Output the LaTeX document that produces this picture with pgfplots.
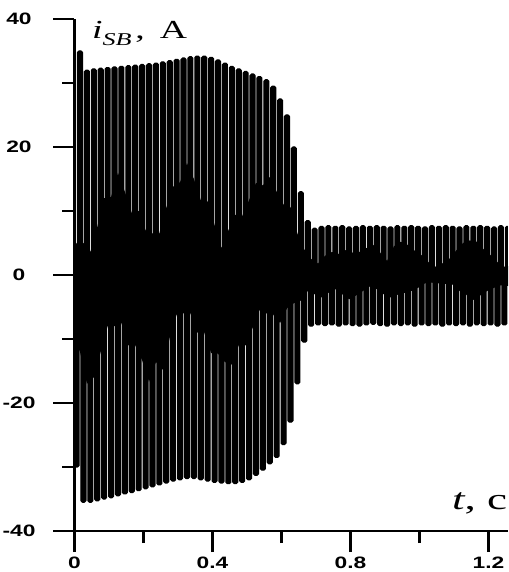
\documentclass[border=0pt]{standalone}
\usepackage{pgfplots}
\pgfplotsset{compat=1.18}
\usepackage{fontspec}
\setmainfont{Liberation Serif}
\newfontfamily\arialf{Liberation Sans}
\usepackage{graphicx}
\newcommand{\tl}[1]{\scalebox{1.38}[1]{\arialf\bfseries\fontsize{16.5}{17}\selectfont #1}}

\begin{document}
\begin{tikzpicture}
\begin{axis}[
 at={(0,0)}, anchor=south west,
 scale only axis, width=433.5pt, height=512pt,
 xmin=0, xmax=1.2565, ymin=-40, ymax=40,
 axis lines=left,
 axis line style={-, line width=2.6pt},
 tick align=outside,
 xtick={0,0.4,0.8,1.2}, xticklabels={\tl{0},\tl{0.4},\tl{0.8},\tl{1.2}},
 minor xtick={0.2,0.6,1.0},
 ytick={-40,-20,0,20,40}, yticklabels={\tl{-40},\tl{-20},\tl{0},\tl{20},\tl{40}},
 minor ytick={-30,-10,10,30},
 major tick length=21pt, minor tick length=12pt,
 tick style={black, line width=2.6pt},
 xticklabel style={anchor=north, inner sep=0pt, yshift=-5pt},
 yticklabel style={anchor=center, inner sep=0pt, xshift=-34.5pt},
 clip mode=individual,
]
\addplot[ybar, bar width=5.0pt, bar shift=0pt, fill=black, draw=black, line width=1.1pt, line join=round, rounded corners=1.5pt] table {
x y
0.006 -30
0.016 35
0.026 -35.5
0.036 32
0.046 -35.5
0.056 32.2
0.066 -35.3
0.076 32.3
0.086 -35.0
0.096 32.4
0.106 -34.8
0.116 32.5
0.126 -34.5
0.136 32.6
0.146 -34.2
0.156 32.7
0.166 -34.0
0.176 32.8
0.186 -33.7
0.196 32.9
0.206 -33.4
0.216 33.0
0.226 -33.1
0.236 33.1
0.246 -32.8
0.256 33.3
0.266 -32.5
0.276 33.5
0.286 -32.2
0.296 33.7
0.306 -32.0
0.316 33.9
0.326 -31.8
0.336 34.1
0.346 -31.8
0.356 34.2
0.366 -32.0
0.376 34.2
0.386 -32.2
0.396 34.0
0.406 -32.4
0.416 33.6
0.426 -32.5
0.436 33.1
0.446 -32.6
0.456 32.6
0.466 -32.6
0.476 32.2
0.486 -32.4
0.496 31.8
0.506 -32.0
0.516 31.4
0.526 -31.3
0.536 31.0
0.546 -30.5
0.556 30.5
0.566 -29.5
0.576 29.5
0.586 -28.5
0.596 27.5
0.606 -26.5
0.616 25
0.626 -23
0.636 20
0.646 -17
0.656 13
0.666 -10.5
0.676 8.5
0.686 -8
0.696 7.3
0.706 -7.8
0.716 7.6
0.726 -7.9
0.736 7.7
0.746 -7.8
0.756 7.6
0.766 -8.0
0.776 7.7
0.786 -7.8
0.796 7.5
0.806 -7.9
0.816 7.6
0.826 -8.0
0.836 7.7
0.846 -7.8
0.856 7.6
0.866 -7.7
0.876 7.7
0.886 -7.9
0.896 7.6
0.906 -8.0
0.916 7.5
0.926 -7.8
0.936 7.7
0.946 -7.9
0.956 7.6
0.966 -7.8
0.976 7.7
0.986 -8.0
0.996 7.6
1.006 -7.8
1.016 7.5
1.026 -7.9
1.036 7.7
1.046 -7.8
1.056 7.6
1.066 -8.0
1.076 7.7
1.086 -7.8
1.096 7.6
1.106 -7.9
1.116 7.5
1.126 -7.8
1.136 7.7
1.146 -8.0
1.156 7.6
1.166 -7.8
1.176 7.7
1.186 -7.9
1.196 7.6
1.206 -7.8
1.216 7.5
1.226 -8.0
1.236 7.7
1.246 -7.8
1.256 7.6
};
\addplot[fill=black, draw=none] coordinates {
(0,4) (0.006,5) (0.026,5) (0.046,3.6) (0.066,7.5) (0.086,12) (0.106,12.2) (0.126,16) (0.146,13) (0.166,9.7) (0.186,10) (0.206,7) (0.226,6.5) (0.246,6.5) (0.266,10.5) (0.286,13.8) (0.306,14.5) (0.326,17.5) (0.346,15) (0.366,11.7) (0.386,11.5) (0.406,7.8) (0.426,4.2) (0.446,7) (0.466,9.4) (0.486,9.2) (0.506,11.7) (0.526,14.4) (0.546,14) (0.566,15.3) (0.586,13) (0.606,11) (0.626,10.6) (0.646,6.5) (0.666,4) (0.686,2.5) (0.706,1.8) (0.726,3) (0.746,3.6) (0.766,3.3) (0.786,3.9) (0.806,3.5) (0.826,3.6) (0.846,4.2) (0.866,4.7) (0.886,3.5) (0.906,2.2) (0.926,4.5) (0.946,5.2) (0.966,4.7) (0.986,3.8) (1.006,3.1) (1.026,2) (1.046,1.3) (1.066,1.8) (1.086,2.5) (1.106,3.8) (1.126,5) (1.146,5.4) (1.166,5.2) (1.186,4) (1.206,3.1) (1.226,2) (1.246,1.3) (1.27,1.5)
(1.27,-1.8) (1.236,-1.6) (1.216,-2) (1.196,-2.5) (1.176,-3.2) (1.156,-3.9) (1.136,-3.1) (1.116,-2.5) (1.096,-1.5) (1.076,-1.4) (1.056,-1.3) (1.036,-1.2) (1.016,-1.3) (0.996,-2) (0.976,-2.5) (0.956,-2.8) (0.936,-3.1) (0.916,-3.5) (0.896,-3) (0.876,-2.2) (0.856,-1.8) (0.836,-2.5) (0.816,-3.2) (0.796,-3.8) (0.776,-3) (0.756,-2.2) (0.736,-2.8) (0.716,-3.5) (0.696,-3) (0.676,-2.5) (0.656,-4) (0.636,-4.4) (0.616,-5.2) (0.596,-7.5) (0.576,-6.2) (0.556,-6) (0.536,-5.5) (0.516,-8.3) (0.496,-11) (0.476,-11) (0.456,-14) (0.436,-13.6) (0.416,-12.3) (0.396,-12.2) (0.376,-9) (0.356,-9) (0.336,-6) (0.316,-6) (0.296,-6.2) (0.276,-9.8) (0.256,-14.8) (0.236,-13.6) (0.216,-16.7) (0.196,-13.3) (0.176,-11) (0.156,-11) (0.136,-7.5) (0.116,-8) (0.096,-8) (0.076,-12) (0.056,-16) (0.036,-17) (0.016,-12) (0,-10)
};
\node[anchor=base west, inner sep=0pt] at (axis cs:0.0507,37) {\scalebox{1.45}[1]{\fontsize{26}{26}\selectfont\textit{i}\raisebox{-0.3em}{\fontsize{18}{18}\selectfont\textit{SB}}\hspace{0.1em}, \hspace{0.15em}A}};
\node[anchor=base west, inner sep=0pt] at (axis cs:1.094,-36.7) {\scalebox{1.5}[1]{\fontsize{30}{30}\selectfont\textit{t}, c}};
\end{axis}
\pgfresetboundingbox
\path[use as bounding box] (-74.5pt,-41pt) rectangle (433.5pt,531pt);
\end{tikzpicture}
\end{document}
